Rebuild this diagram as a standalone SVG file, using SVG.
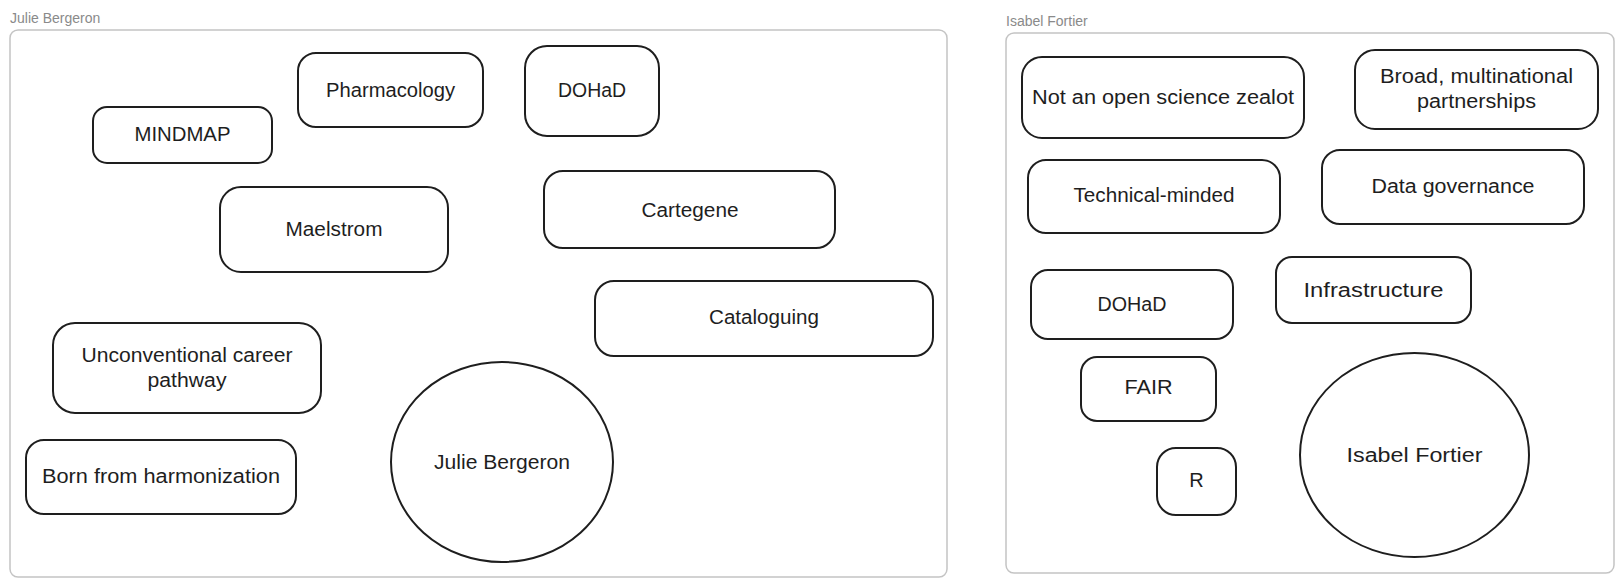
<svg xmlns="http://www.w3.org/2000/svg" width="1623" height="587" viewBox="0 0 1623 587">
<style>
.frame{fill:#fff;stroke:#c4c4c4;stroke-width:1.5}
.flabel{font-family:"Liberation Sans",Arial,sans-serif;font-size:14px;fill:#8a8a8a}
.box{fill:#fff;stroke:#1e1e1e;stroke-width:2}
.t{font-family:"Liberation Sans",Arial,sans-serif;font-size:20px;fill:#1e1e1e;text-anchor:middle}
</style>
<rect width="1623" height="587" fill="#fff"/>
<g id="frame-julie">
<text class="flabel" x="10" y="23">Julie Bergeron</text>
<rect class="frame" x="10" y="30" width="937" height="547" rx="8"/>
</g>
<g id="frame-isabel">
<text class="flabel" x="1006" y="26">Isabel Fortier</text>
<rect class="frame" x="1006" y="33" width="608" height="540" rx="8"/>
</g>
<g id="connectors"></g>
<g id="mindmap"><rect class="box" x="93" y="107" width="179" height="56" rx="14"/><text class="t" x="182.5" y="141" textLength="96" lengthAdjust="spacingAndGlyphs">MINDMAP</text></g>
<g id="pharmacology"><rect class="box" x="298" y="53" width="185" height="74" rx="18"/><text class="t" x="390.5" y="97" textLength="129" lengthAdjust="spacingAndGlyphs">Pharmacology</text></g>
<g id="dohad-julie"><rect class="box" x="525" y="46" width="134" height="90" rx="22"/><text class="t" x="592" y="97" textLength="68" lengthAdjust="spacingAndGlyphs">DOHaD</text></g>
<g id="maelstrom"><rect class="box" x="220" y="187" width="228" height="85" rx="21"/><text class="t" x="334" y="236" textLength="97" lengthAdjust="spacingAndGlyphs">Maelstrom</text></g>
<g id="cartegene"><rect class="box" x="544" y="171" width="291" height="77" rx="19"/><text class="t" x="690" y="217" textLength="97" lengthAdjust="spacingAndGlyphs">Cartegene</text></g>
<g id="cataloguing"><rect class="box" x="595" y="281" width="338" height="75" rx="19"/><text class="t" x="764" y="324" textLength="110" lengthAdjust="spacingAndGlyphs">Cataloguing</text></g>
<g id="unconventional"><rect class="box" x="53" y="323" width="268" height="90" rx="22"/><text class="t" x="187" y="362" textLength="211" lengthAdjust="spacingAndGlyphs">Unconventional career</text><text class="t" x="187" y="387" textLength="79" lengthAdjust="spacingAndGlyphs">pathway</text></g>
<g id="born"><rect class="box" x="26" y="440" width="270" height="74" rx="18"/><text class="t" x="161" y="483" textLength="238" lengthAdjust="spacingAndGlyphs">Born from harmonization</text></g>
<g id="julie"><ellipse class="box" cx="502" cy="462" rx="111" ry="100"/><text class="t" x="502" y="469" textLength="136" lengthAdjust="spacingAndGlyphs">Julie Bergeron</text></g>
<g id="zealot"><rect class="box" x="1022" y="57" width="282" height="81" rx="20"/><text class="t" x="1163" y="104" textLength="262" lengthAdjust="spacingAndGlyphs">Not an open science zealot</text></g>
<g id="broad"><rect class="box" x="1355" y="50" width="243" height="79" rx="20"/><text class="t" x="1476.5" y="83" textLength="193" lengthAdjust="spacingAndGlyphs">Broad, multinational</text><text class="t" x="1476.5" y="108" textLength="119" lengthAdjust="spacingAndGlyphs">partnerships</text></g>
<g id="technical"><rect class="box" x="1028" y="160" width="252" height="73" rx="18"/><text class="t" x="1154" y="202" textLength="161" lengthAdjust="spacingAndGlyphs">Technical-minded</text></g>
<g id="governance"><rect class="box" x="1322" y="150" width="262" height="74" rx="18"/><text class="t" x="1453" y="193" textLength="163" lengthAdjust="spacingAndGlyphs">Data governance</text></g>
<g id="dohad-isabel"><rect class="box" x="1031" y="270" width="202" height="69" rx="17"/><text class="t" x="1132" y="311" textLength="69" lengthAdjust="spacingAndGlyphs">DOHaD</text></g>
<g id="infrastructure"><rect class="box" x="1276" y="257" width="195" height="66" rx="16"/><text class="t" x="1373.5" y="297" textLength="140" lengthAdjust="spacingAndGlyphs">Infrastructure</text></g>
<g id="fair"><rect class="box" x="1081" y="357" width="135" height="64" rx="16"/><text class="t" x="1148.5" y="394" textLength="48" lengthAdjust="spacingAndGlyphs">FAIR</text></g>
<g id="r"><rect class="box" x="1157" y="448" width="79" height="67" rx="19"/><text class="t" x="1196.5" y="487">R</text></g>
<g id="isabel"><ellipse class="box" cx="1414.5" cy="455" rx="114.5" ry="102"/><text class="t" x="1414.5" y="462" textLength="136" lengthAdjust="spacingAndGlyphs">Isabel Fortier</text></g>
</svg>
